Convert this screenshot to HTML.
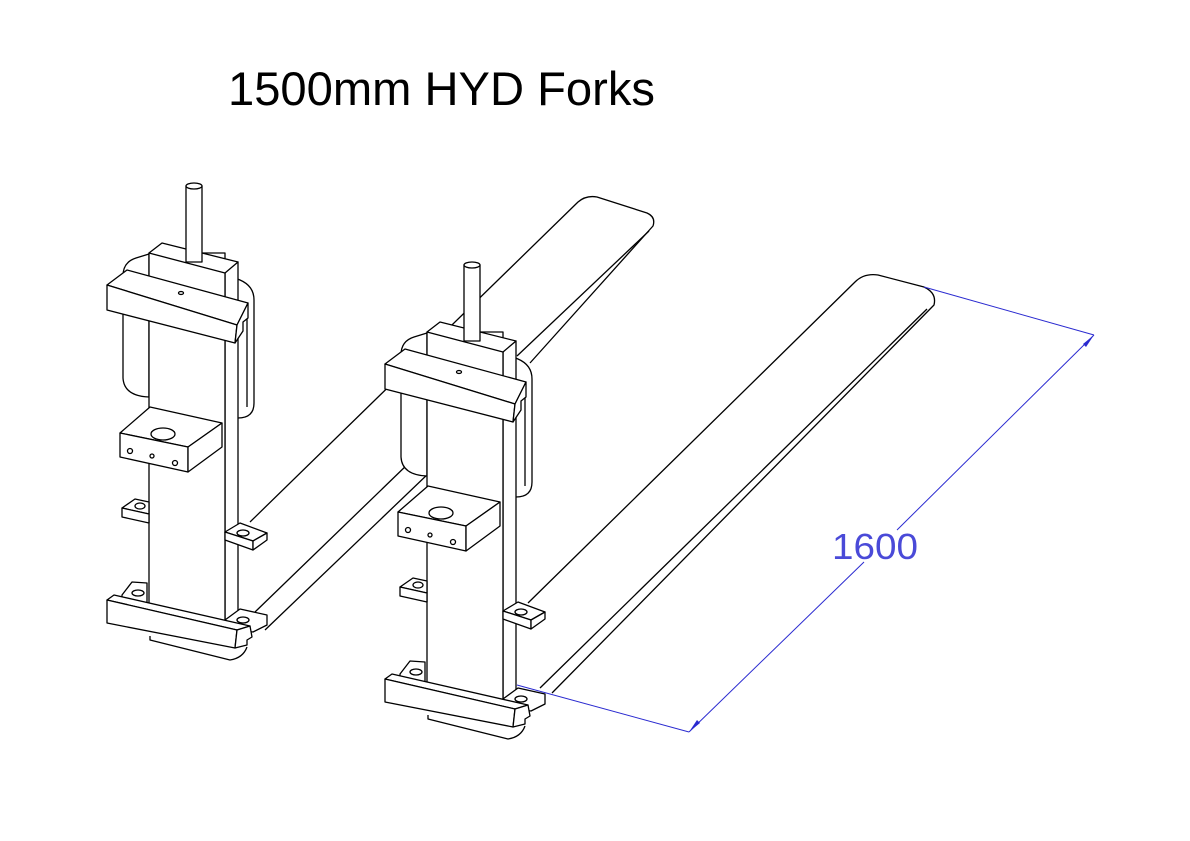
<!DOCTYPE html>
<html><head><meta charset="utf-8"><style>
html,body{margin:0;padding:0;background:#fff;}
svg{display:block;}
</style></head><body>
<svg width="1190" height="841" viewBox="0 0 1190 841" xmlns="http://www.w3.org/2000/svg">
<rect width="1190" height="841" fill="#fff"/>
<text x="228" y="105" font-family="Liberation Sans, Arial, sans-serif" font-size="47" fill="#000" textLength="427" lengthAdjust="spacingAndGlyphs">1500mm HYD Forks</text>

<g fill="none" stroke="#000" stroke-width="1.3" stroke-linejoin="round">
  <!-- left fork -->
  <path d="M250,522 L578,202 Q586,195 597,197 L647,213 Q656,217 653,226 L530,363"/>
  <path d="M649,231 L517,356"/>
  <path d="M255,612 L410,462"/>
  <path d="M265,630 L430,472"/>
  <!-- right fork -->
  <path d="M528,603 L855,282 Q864,273 878,275 L924,287 Q937,293 934,305 L552,693"/>
  <path d="M927,309 L540,688"/>
</g>

<defs>
<g id="asm" stroke="#000" stroke-width="1.3" stroke-linejoin="round" fill="#fff">
  <path d="M149,397 Q124,396 123,378 L123,276 Q123,262 136,258 L149,254 Z"/>
  <path d="M225,274 L240,280 Q254,286 254,300 L254,403 Q254,418 238,418 L225,418 Z"/>
  <path d="M247,310 L247,407" fill="none"/>
  <polygon points="225,272 238,262 238,612 225,620"/>
  <rect x="149" y="253" width="76" height="370"/>
  <polygon points="149,253 162,243 238,262 225,273"/>
  <rect x="186" y="186" width="16" height="76"/>
  <ellipse cx="194" cy="186" rx="8" ry="3"/>
  <polygon points="107,285 127,270 248,303 237,325"/>
  <polygon points="107,285 237,325 235,343 107,310"/>
  <polygon points="237,325 248,303 248,318 243,322 243,331 235,343"/>
  <ellipse cx="181" cy="293" rx="2.5" ry="1.5"/>
  <polygon points="120,433 150,407 222,423 188,447"/>
  <polygon points="120,433 188,447 188,472 120,457"/>
  <polygon points="188,447 222,423 222,447 188,472"/>
  <ellipse cx="163" cy="434" rx="12" ry="6"/>
  <circle cx="130" cy="451" r="2.5"/>
  <circle cx="152" cy="456" r="2"/>
  <circle cx="175" cy="463" r="2.5"/>
  <polygon points="122,508 135,499 149,502 149,514"/>
  <polygon points="122,508 149,514 149,523 122,517"/>
  <ellipse cx="140" cy="506" rx="5" ry="3"/>
  <polygon points="225,532 240,523 267,533 253,541"/>
  <polygon points="225,532 253,541 253,550 225,540"/>
  <polygon points="253,541 267,533 267,540 253,550"/>
  <ellipse cx="243" cy="533" rx="6" ry="3"/>
  <path d="M150,636 L150,640 L230,660 Q243,658 247,647"/>
  <polygon points="122,595 132,582 147,583 147,604 122,600"/>
  <ellipse cx="138" cy="593" rx="6" ry="3"/>
  <polygon points="225,620 240,609 267,615 267,625 253,632 225,628"/>
  <ellipse cx="243" cy="620" rx="6" ry="3"/>
  <polygon points="107,600 114,595 250,626 237,630"/>
  <polygon points="107,600 237,630 235,648 107,623"/>
  <polygon points="237,630 250,626 252,637 247,640 247,645 235,648"/>
</g>
</defs>

<use href="#asm"/>
<use href="#asm" transform="translate(278,79)"/>

<g stroke="#2a2ad0" stroke-width="1" fill="none">
  <line x1="517" y1="685" x2="689" y2="732"/>
  <line x1="924" y1="287" x2="1094" y2="335"/>
  <line x1="689" y1="732" x2="864" y2="562"/>
  <line x1="897" y1="530" x2="1094" y2="335"/>
</g>
<g fill="#2a2ad0">
  <polygon points="689,732 697,720 700,723"/>
  <polygon points="1094,335 1086,347 1083,344"/>
</g>
<text x="832" y="559" font-family="Liberation Sans, Arial, sans-serif" font-size="36" fill="#4a4ad8" textLength="86" lengthAdjust="spacingAndGlyphs">1600</text>
</svg>
</body></html>
